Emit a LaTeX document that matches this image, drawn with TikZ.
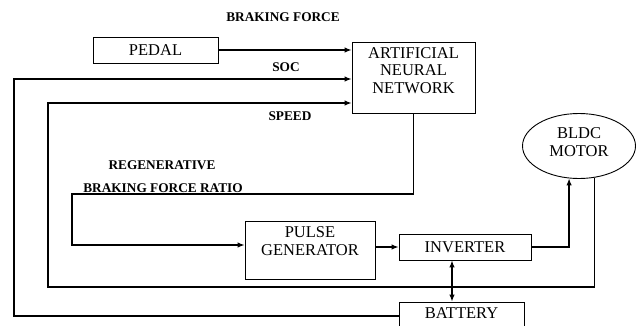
\documentclass[tikz,border=0pt]{standalone}
\usepackage{fontspec}
\setmainfont{Liberation Serif}
\usetikzlibrary{arrows.meta,shapes.geometric}
\begin{document}
\begin{tikzpicture}[x=1pt,y=-1pt,
  box/.style={draw, line width=0.9pt, inner sep=0pt},
  boxtext/.style={font=\fontsize{16.5}{17.5}\selectfont, align=center, inner sep=0pt},
  lbl/.style={font=\bfseries\fontsize{13.3}{14}\selectfont, inner sep=0pt},
  conn/.style={line width=1.2pt},
  tip/.tip={Latex[length=7pt,width=5.5pt]},
  arr/.style={conn, -tip},
]
\useasboundingbox (0,0) rectangle (642,325);
\clip (0,0) rectangle (642,325);
% boxes
\node[box, minimum width=125pt, minimum height=26pt, font=\fontsize{16.5}{17.5}\selectfont] (pedal) at (155.5,50) {PEDAL};
\node[box, minimum width=123pt, minimum height=71pt] (ann) at (413.5,77.5) {};
\node[boxtext] (annt) at (413.5,70.5) {ARTIFICIAL\\NEURAL\\NETWORK};
\node[draw, ellipse, line width=0.9pt, minimum width=113pt, minimum height=65pt, inner sep=0pt] (motor) at (579,146) {};
\node[boxtext] (motort) at (579,142) {BLDC\\MOTOR};
\node[box, minimum width=130pt, minimum height=58pt] (pg) at (310,250) {};
\node[boxtext] (pgt) at (310,241) {PULSE\\GENERATOR};
\node[box, minimum width=132pt, minimum height=26pt, font=\fontsize{16.5}{17.5}\selectfont] (inv) at (465,247) {INVERTER};
\node[box, minimum width=125pt, minimum height=40pt] (bat) at (461.5,322) {};
\node[boxtext] (batt) at (461.5,313) {BATTERY};
% labels
\node[lbl] (lbf) at (283,17) {BRAKING FORCE};
\node[lbl] (lsoc) at (286,67) {SOC};
\node[lbl] (lspeed) at (290,116) {SPEED};
\node[lbl] (lregen) at (162,165) {REGENERATIVE};
\node[lbl] (lbfr) at (163,188) {BRAKING FORCE RATIO};
% connectors
\draw[arr] (pedal.east) -- (pedal.east -| ann.west);
\coordinate (socL) at (14,79);
\coordinate (socB) at (14,316);
\draw[arr] (bat.west |- socB) -- (socB) -- (socL) -- (socL -| ann.west);
\coordinate (spL) at (48,103);
\coordinate (spB) at (48,287);
\draw[arr] (motor.-64) |- (spB) -- (spL) -- (spL -| ann.west);
\coordinate (rT) at (72,194);
\coordinate (rB) at (72,245);
\draw[arr] (ann.south) |- (rT) -- (rB) -- (rB -| pg.west);
\draw[arr] (pg.east |- inv.west) -- (inv.west);
\draw[arr] (inv.east) -| (motor.-107);
\coordinate (bx) at (452,0);
\draw[conn, tip-tip] (inv.south -| bx) -- (bat.north -| bx);
\end{tikzpicture}
\end{document}
